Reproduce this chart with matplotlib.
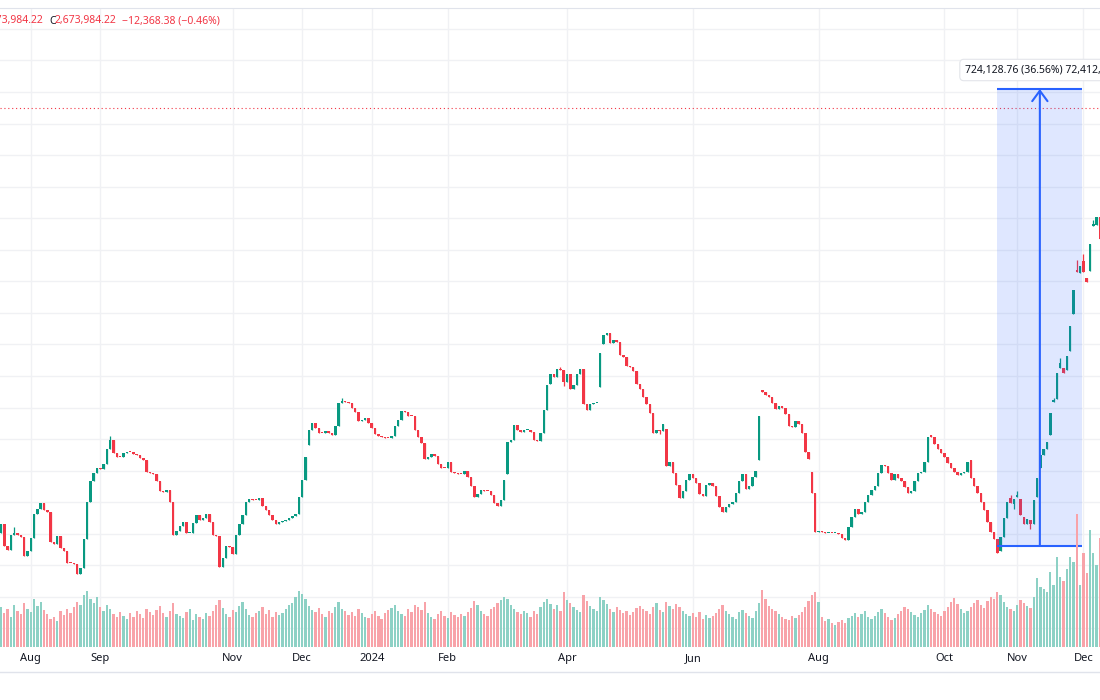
import numpy as np
import matplotlib
matplotlib.use('Agg')
import matplotlib.pyplot as plt

plt.rcParams['font.family'] = ['Noto Sans', 'DejaVu Sans']

UP = '#089981'
DOWN = '#f23645'
VOL_UP = '#8dd1c5'
VOL_DOWN = '#f8a3a9'
GRID = '#f0f1f4'
TEXT = '#131722'
RULER = '#2962ff'

# daily closes (thousands), one per bar
closes = [
    2016, 1981, 1974, 1998, 2001, 1998, 1995, 1965, 1973, 1993, 2031, 2039, 2049, 2037, 2035, 1987, 1984, 1997, 1977, 1972,
    1954, 1953, 1952, 1936, 1945, 1991, 2051, 2083, 2096, 2104, 2102, 2111, 2135, 2149, 2128, 2122, 2121, 2128, 2130, 2129,
    2127, 2125, 2120, 2117, 2098, 2096, 2095, 2083, 2067, 2066, 2069, 2051, 1998, 2005, 2012, 2019, 2001, 2002, 2017, 2030,
    2022, 2025, 2031, 2019, 1998, 1996, 1948, 1961, 1980, 1979, 1968, 1998, 2016, 2030, 2051, 2055, 2054, 2053, 2056, 2044,
    2037, 2030, 2022, 2016, 2019, 2021, 2022, 2025, 2028, 2031, 2059, 2086, 2121, 2164, 2176, 2167, 2160, 2159, 2163, 2159,
    2156, 2171, 2207, 2211, 2209, 2207, 2199, 2193, 2178, 2181, 2183, 2175, 2167, 2158, 2155, 2153, 2152, 2151, 2155, 2170,
    2180, 2195, 2193, 2187, 2186, 2164, 2153, 2144, 2118, 2122, 2126, 2123, 2111, 2105, 2104, 2113, 2098, 2096, 2095, 2094,
    2100, 2090, 2076, 2059, 2063, 2069, 2068, 2067, 2061, 2048, 2044, 2054, 2085, 2146, 2149, 2172, 2164, 2162, 2164, 2165,
    2162, 2149, 2147, 2160, 2196, 2236, 2253, 2248, 2261, 2259, 2241, 2253, 2229, 2236, 2253, 2261, 2206, 2196, 2206, 2207,
    2208, 2286, 2315, 2318, 2302, 2307, 2304, 2283, 2280, 2266, 2265, 2258, 2237, 2229, 2217, 2206, 2191, 2159, 2164, 2163,
    2174, 2107, 2113, 2097, 2077, 2056, 2068, 2086, 2095, 2088, 2080, 2063, 2060, 2077, 2081, 2075, 2060, 2043, 2035, 2043,
    2047, 2051, 2065, 2083, 2095, 2071, 2075, 2090, 2100, 2187, 2225, 2220, 2216, 2208, 2197, 2202, 2199, 2190, 2170, 2169,
    2179, 2174, 2159, 2130, 2118, 2065, 2003, 2005, 2003, 2001, 2002, 2001, 2002, 2000, 1993, 1990, 2010, 2027, 2039, 2031,
    2035, 2051, 2061, 2069, 2076, 2097, 2109, 2107, 2097, 2086, 2095, 2088, 2083, 2074, 2064, 2067, 2083, 2096, 2098, 2114,
    2153, 2153, 2143, 2135, 2128, 2121, 2112, 2104, 2098, 2093, 2096, 2098, 2113, 2088, 2076, 2064, 2050, 2038, 2019, 2003,
    1991, 1969, 1995, 2025, 2051, 2049, 2055, 2061, 2030, 2016, 2023, 2016, 2054, 2088, 2125, 2134, 2146, 2192, 2212, 2254,
    2270, 2254, 2281, 2329, 2387, 2414, 2424, 2414, 2399, 2459, 2491, 2502, 2467,
]

# bars that did not open at the previous close
gap_opens = {
    0: 2001, 93: 2141, 153: 2095, 166: 2238, 181: 2233, 182: 2301, 201: 2166, 229: 2117,
    230: 2228, 245: 2098, 281: 2157, 293: 2117, 302: 1972, 305: 2056, 306: 2047, 307: 2058,
    308: 2055, 309: 2027, 311: 2022, 313: 2058, 314: 2104, 317: 2157, 318: 2209, 319: 2213,
    320: 2262, 321: 2262, 322: 2260, 323: 2289, 324: 2349, 325: 2418, 326: 2413, 327: 2432,
    328: 2406, 329: 2417, 330: 2488, 331: 2489, 332: 2502,
}

# visible wicks
wick_high = {4: 2011, 33: 2155, 103: 2215, 169: 2264, 305: 2061, 307: 2068,
             318: 2215, 320: 2278, 325: 2434, 327: 2443, 330: 2497}
wick_low = {170: 2234, 199: 2158, 306: 2040, 311: 2008}

volumes = [
    40, 34, 38, 30, 42, 36, 33, 44, 38, 35, 48, 41, 45, 37, 33, 28, 30, 26, 36, 32,
    38, 34, 40, 45, 42, 52, 56, 48, 44, 50, 40, 36, 42, 38, 33, 30, 35, 31, 28, 34,
    30, 36, 33, 29, 38, 35, 32, 37, 41, 34, 30, 36, 44, 33, 31, 29, 35, 38, 27, 33,
    30, 28, 34, 31, 36, 42, 47, 39, 33, 30, 37, 35, 41, 45, 38, 32, 30, 34, 36, 40,
    33, 37, 30, 35, 32, 34, 38, 42, 44, 50, 56, 53, 48, 41, 37, 35, 39, 33, 30, 36,
    34, 40, 45, 38, 36, 32, 35, 31, 38, 34, 30, 29, 33, 36, 31, 28, 34, 37, 39, 42,
    36, 33, 31, 38, 35, 42, 40, 37, 45, 34, 30, 28, 33, 36, 31, 29, 35, 32, 30, 33,
    31, 35, 39, 46, 42, 36, 33, 31, 38, 40, 44, 47, 50, 48, 42, 38, 35, 33, 36, 34,
    30, 36, 33, 40, 45, 48, 43, 38, 42, 36, 55, 47, 44, 40, 37, 35, 52, 46, 41, 38,
    36, 50, 47, 43, 38, 35, 40, 37, 34, 36, 32, 35, 39, 41, 38, 36, 33, 40, 44, 37,
    35, 45, 41, 38, 43, 40, 36, 33, 31, 34, 30, 35, 28, 32, 29, 31, 34, 38, 42, 36,
    33, 30, 28, 35, 37, 34, 31, 29, 36, 44, 57, 48, 41, 38, 36, 33, 30, 28, 27, 31,
    29, 32, 35, 40, 46, 52, 55, 45, 30, 26, 28, 24, 22, 25, 27, 24, 29, 31, 34, 30,
    33, 36, 30, 28, 31, 35, 38, 34, 30, 27, 29, 33, 36, 40, 38, 35, 32, 30, 34, 37,
    42, 38, 35, 33, 31, 36, 40, 45, 49, 43, 38, 34, 36, 40, 44, 47, 42, 39, 46, 50,
    48, 55, 52, 45, 40, 38, 36, 42, 47, 44, 41, 39, 50, 69, 60, 58, 55, 75, 62, 90,
    70, 66, 78, 90, 85, 133, 62, 94, 74, 117, 94, 82, 109,
]

month_pos = [9, 30, 70, 91, 112, 135, 171, 209, 247, 285, 307, 327]
month_labels = ['Aug', 'Sep', 'Nov', 'Dec', '2024', 'Feb', 'Apr', 'Jun', 'Aug', 'Oct', 'Nov', 'Dec']
grid_levels = [1850, 1900, 1950, 2000, 2050, 2100, 2150, 2200, 2250, 2300, 2350, 2400,
               2450, 2500, 2550, 2600, 2650, 2700, 2750, 2800]

last_price = 2673.98
ruler_start, ruler_end = 301, 326.7
ruler_low, ruler_high = 1980.66, 2704.79

assert len(volumes) == len(closes)

# --- build OHLC
n = len(closes)
x = np.arange(n)
c = np.array(closes, float)
o = np.array([gap_opens.get(i, closes[i - 1]) for i in range(n)], float)
up = c >= o
body_lo = np.minimum(o, c)
body_h = np.maximum(np.abs(c - o), 1.6)
highs = np.maximum(o, c)
lows = body_lo.copy()
for i, v in wick_high.items():
    highs[i] = v
for i, v in wick_low.items():
    lows[i] = v
colors = np.where(up, UP, DOWN)
vol_colors = np.where(up, VOL_UP, VOL_DOWN)

fig = plt.figure(figsize=(11, 7), dpi=100)
ax = fig.add_axes([0, 53 / 700, 1, 639 / 700])
ax_v = ax.twinx()  # volume overlay, made first so tick settings below stick

ax.set_xlim(-0.302, 332.02)
ax.set_ylim(1820.6, 2833.1)

ax.set_yticks(grid_levels)
ax.set_xticks(month_pos)
ax.set_xticklabels(month_labels)
ax.grid(True, color=GRID, lw=1)
ax.set_axisbelow(True)
ax.tick_params(axis='y', left=False, right=False, labelleft=False, labelright=False)
ax.tick_params(axis='x', length=0, pad=4.5, labelsize=8, labelcolor=TEXT)
ax.get_xticklabels()[4].set_fontweight('bold')
for s in ax.spines.values():
    s.set_visible(False)
ax.spines['top'].set_visible(True)
ax.spines['top'].set_color('#e0e3eb')
ax.spines['top'].set_linewidth(0.8)

# candles
ax.vlines(x, lows, highs, colors=colors, lw=0.9, zorder=3)
ax.bar(x, body_h, bottom=body_lo, width=0.74, color=colors, linewidth=0, zorder=4)

# last price line
ax.axhline(last_price, color=DOWN, lw=0.8, ls=(0, (1, 2.5)), zorder=2)

# price range ruler
ax.fill_between([ruler_start, ruler_end], ruler_low, ruler_high, color=RULER, alpha=0.15, lw=0, zorder=5)
ax.hlines([ruler_low, ruler_high], ruler_start, ruler_end, color=RULER, lw=1.5, zorder=6)
mid = (ruler_start + ruler_end) / 2
ax.annotate('', xy=(mid, ruler_high), xytext=(mid, ruler_low),
            arrowprops=dict(arrowstyle='->,head_length=0.75,head_width=0.55', color=RULER,
                            lw=1.5, shrinkA=0, shrinkB=0), zorder=6)

# volume bars
ax_v.bar(x, volumes, width=0.7, color=vol_colors, linewidth=0)
ax_v.set_ylim(0, 639)
ax_v.axis('off')

fig.add_artist(plt.Line2D([0, 1], [1 - 672 / 700] * 2, color='#e0e3eb', lw=1))

# header legend
hy = 1 - 21 / 700
fig.text(43 / 1100, hy, '2,673,984.22', ha='right', va='center', fontsize=7.5, color=DOWN)
fig.text(49 / 1100, hy, 'C', ha='left', va='center', fontsize=7.5, color=TEXT)
fig.text(55 / 1100, hy, '2,673,984.22', ha='left', va='center', fontsize=7.5, color=DOWN)
fig.text(122 / 1100, hy, '\u221212,368.38 (\u22120.46%)', ha='left', va='center', fontsize=7.5, color=DOWN)

# ruler label
fig.text(965 / 1100, 1 - 70 / 700, '724,128.76 (36.56%) 72,412,876', ha='left', va='center',
         fontsize=7.5, color=TEXT,
         bbox=dict(boxstyle='round,pad=0.5,rounding_size=0.4', fc='white', ec='#e3e5ea', lw=0.8))

fig.savefig('out.png', dpi=100)
